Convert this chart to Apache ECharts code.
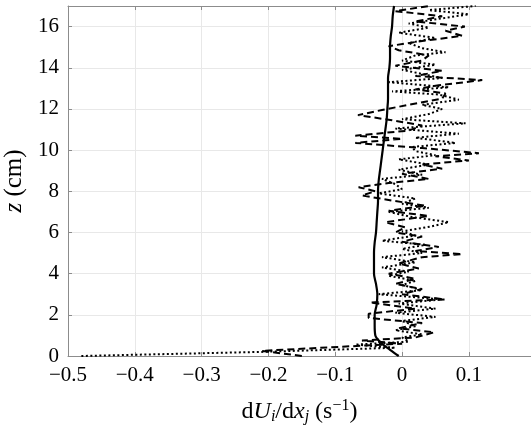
<!DOCTYPE html>
<html>
<head>
<meta charset="utf-8">
<script src="https://cdn.jsdelivr.net/npm/echarts@6/dist/echarts.min.js"></script>
<style>
  html, body { margin: 0; padding: 0; background: #fff; }
  #chart { width: 531px; height: 427px; }
</style>
</head>
<body>
<div id="chart"></div>
<script>
// Vertical profiles of velocity gradient components against height z (cm)
const solidZ = [0, 0.3, 0.6, 1.0, 1.5, 2, 2.5, 3, 3.5, 4, 4.5, 5, 5.5, 6, 6.5, 7, 7.5, 8, 8.5, 9, 9.5, 10, 10.5, 11, 11.5, 12, 12.5, 13, 13.5, 14, 14.5, 15, 15.5, 16, 16.5, 17];
const solidX = [-0.005, -0.018, -0.030, -0.040, -0.041, -0.041, -0.038, -0.037, -0.039, -0.042, -0.042, -0.042, -0.041, -0.039, -0.038, -0.037, -0.036, -0.036, -0.035, -0.033, -0.031, -0.029, -0.027, -0.025, -0.023, -0.022, -0.021, -0.021, -0.021, -0.019, -0.018, -0.018, -0.017, -0.015, -0.014, -0.012];

const dashedZ = [0, 0.25, 0.6, 0.75, 0.9, 1.15, 1.35, 1.6, 1.85, 2.05, 2.3, 2.6, 2.75, 3.0, 3.25, 3.5, 3.75, 4.0, 4.25, 4.5, 4.8, 4.95, 5.1, 5.3, 5.55, 5.8, 6.0, 6.25, 6.5, 6.8, 7.05, 7.3, 7.55, 7.8, 8.0, 8.2, 8.4, 8.6, 8.85, 9.1, 9.3, 9.5, 9.7, 9.85, 10.1, 10.35, 10.55, 10.7, 10.95, 11.2, 11.45, 11.7, 11.95, 12.2, 12.5, 12.75, 12.95, 13.15, 13.4, 13.6, 13.85, 14.1, 14.35, 14.6, 14.85, 15.05, 15.3, 15.55, 15.8, 16.0, 16.25, 16.5, 16.75, 17.0];
const dashedX = [-0.15, -0.21, 0.0, -0.06, 0.02, 0.048, -0.005, 0.03, -0.05, -0.05, 0.02, -0.048, 0.064, 0.0, 0.03, -0.01, 0.02, -0.02, 0.025, -0.005, 0.03, 0.09, 0.02, 0.055, 0.0, 0.03, -0.01, 0.005, -0.025, 0.04, -0.02, 0.035, -0.015, -0.06, -0.04, -0.065, -0.02, 0.04, 0.0, 0.06, 0.03, 0.1, 0.05, 0.115, 0.03, -0.07, 0.0, -0.07, 0.01, 0.03, -0.015, -0.066, -0.03, 0.01, 0.06, 0.065, 0.02, 0.055, 0.12, 0.02, 0.06, -0.01, 0.03, 0.04, -0.005, -0.02, 0.03, 0.09, 0.065, 0.094, 0.02, 0.06, -0.01, 0.04];

const dottedZ = [0.0, 0.2, 0.4, 0.55, 0.7, 0.9, 1.05, 1.25, 1.45, 1.7, 1.9, 2.1, 2.3, 2.55, 2.75, 3.0, 3.2, 3.45, 3.65, 3.9, 4.1, 4.3, 4.55, 4.8, 5.0, 5.2, 5.4, 5.6, 5.85, 6.05, 6.3, 6.5, 6.75, 7.0, 7.2, 7.4, 7.65, 7.9, 8.1, 8.35, 8.6, 8.8, 9.05, 9.3, 9.55, 9.75, 9.95, 10.15, 10.35, 10.6, 10.8, 11.05, 11.3, 11.5, 11.75, 12.0, 12.2, 12.45, 12.7, 12.85, 13.05, 13.3, 13.5, 13.7, 13.9, 14.15, 14.35, 14.6, 14.75, 14.95, 15.2, 15.45, 15.7, 15.95, 16.15, 16.4, 16.6, 16.8, 17.0];
const dottedX = [-0.48, -0.21, -0.01, -0.07, 0.01, 0.0, 0.03, -0.01, 0.02, 0.0, 0.05, -0.01, 0.05, -0.005, 0.06, -0.035, 0.03, 0.0, 0.02, -0.02, 0.01, -0.03, 0.02, -0.03, 0.03, 0.0, 0.035, -0.03, 0.02, 0.0, 0.045, 0.07, 0.015, -0.02, 0.04, 0.0, 0.02, -0.035, 0.0, -0.01, -0.03, 0.03, -0.005, 0.04, -0.005, 0.05, 0.02, 0.015, 0.08, 0.02, 0.085, -0.01, 0.095, 0.0, 0.04, 0.06, 0.03, 0.085, 0.055, -0.015, 0.07, -0.02, 0.06, 0.03, 0.0, 0.05, 0.0, 0.02, 0.065, 0.03, 0.01, 0.05, -0.005, 0.04, 0.01, 0.06, 0.1, 0.04, 0.11];

const xTicks = [-0.5, -0.4, -0.3, -0.2, -0.1, 0, 0.1];
const yTicks = [0, 2, 4, 6, 8, 10, 12, 14, 16];

const pairs = (xs, zs) => xs.map((x, i) => [x, zs[i]]);
const fmtX = v => {
  const r = Math.round(v * 10) / 10;
  if (!xTicks.some(t => Math.abs(t - r) < 1e-9)) return '';
  if (r === 0) return '0';
  return (r < 0 ? '\u2212' : '') + Math.abs(r).toFixed(1);
};
const fmtY = v => (yTicks.indexOf(Math.round(v)) >= 0 && Math.abs(v - Math.round(v)) < 1e-9) ? String(Math.round(v)) : '';

const FONT = '"Liberation Serif", "Times New Roman", serif';
const axisGrey = '#8c8c8c';
const gridGrey = '#e8e8e8';

const chart = echarts.init(document.getElementById('chart'), null, { renderer: 'canvas' });

const baseX = {
  type: 'value', min: -0.5, max: 0.193, interval: 0.1,
  axisLine: { show: true, onZero: false, lineStyle: { color: axisGrey, width: 1 } },
  axisTick: { show: true, inside: true, length: 4, lineStyle: { color: axisGrey } }
};
const baseY = {
  type: 'value', min: 0, max: 17, interval: 2,
  axisLine: { show: true, onZero: false, lineStyle: { color: axisGrey, width: 1 } },
  axisTick: { show: true, inside: true, length: 4, lineStyle: { color: axisGrey } }
};

chart.setOption({
  animation: false,
  backgroundColor: '#fff',
  grid: { left: 68, right: 0, top: 6, bottom: 71, containLabel: false, outerBoundsMode: 'none' },
  xAxis: [
    Object.assign({}, baseX, {
      position: 'bottom',
      splitLine: { show: true, lineStyle: { color: gridGrey, width: 1 } },
      axisLabel: { show: true, formatter: fmtX, margin: 9, color: '#000', fontFamily: FONT, fontSize: 21, showMaxLabel: false },
      name: 'd{i|U}{sub|i}/d{i|x}{sub|j} (s{sup|\u22121})',
      nameLocation: 'middle', nameGap: 42,
      nameTextStyle: {
        color: '#000', fontFamily: FONT, fontSize: 24,
        rich: {
          i: { fontFamily: FONT, fontSize: 24, fontStyle: 'italic', color: '#000' },
          sub: { fontFamily: FONT, fontSize: 16, fontStyle: 'italic', color: '#000', verticalAlign: 'bottom', padding: [11, 0, 0, 0] },
          sup: { fontFamily: FONT, fontSize: 16, color: '#000', verticalAlign: 'top', padding: [0, 0, 11, 0] }
        }
      }
    }),
    Object.assign({}, baseX, {
      position: 'top',
      splitLine: { show: false },
      axisLabel: { show: false }
    })
  ],
  yAxis: [
    Object.assign({}, baseY, {
      position: 'left',
      splitLine: { show: true, lineStyle: { color: gridGrey, width: 1 } },
      axisLabel: { show: true, formatter: fmtY, margin: 9, color: '#000', fontFamily: FONT, fontSize: 21, showMaxLabel: false },
      name: '{i|z} (cm)',
      nameLocation: 'middle', nameGap: 36, nameRotate: 90,
      nameTextStyle: {
        color: '#000', fontFamily: FONT, fontSize: 25,
        rich: { i: { fontFamily: FONT, fontSize: 25, fontStyle: 'italic', color: '#000' } }
      }
    })
  ],
  series: [
    {
      type: 'line', data: pairs(solidX, solidZ), showSymbol: false, smooth: 0.3,
      lineStyle: { color: '#000', width: 2.2, type: 'solid' }, z: 5
    },
    {
      type: 'line', data: pairs(dashedX, dashedZ), showSymbol: false,
      lineStyle: { color: '#000', width: 2, type: [7, 4] }, z: 4
    },
    {
      type: 'line', data: pairs(dottedX, dottedZ), showSymbol: false,
      lineStyle: { color: '#000', width: 2, type: [2, 2.5] }, z: 3
    }
  ]
});
</script>
</body>
</html>
